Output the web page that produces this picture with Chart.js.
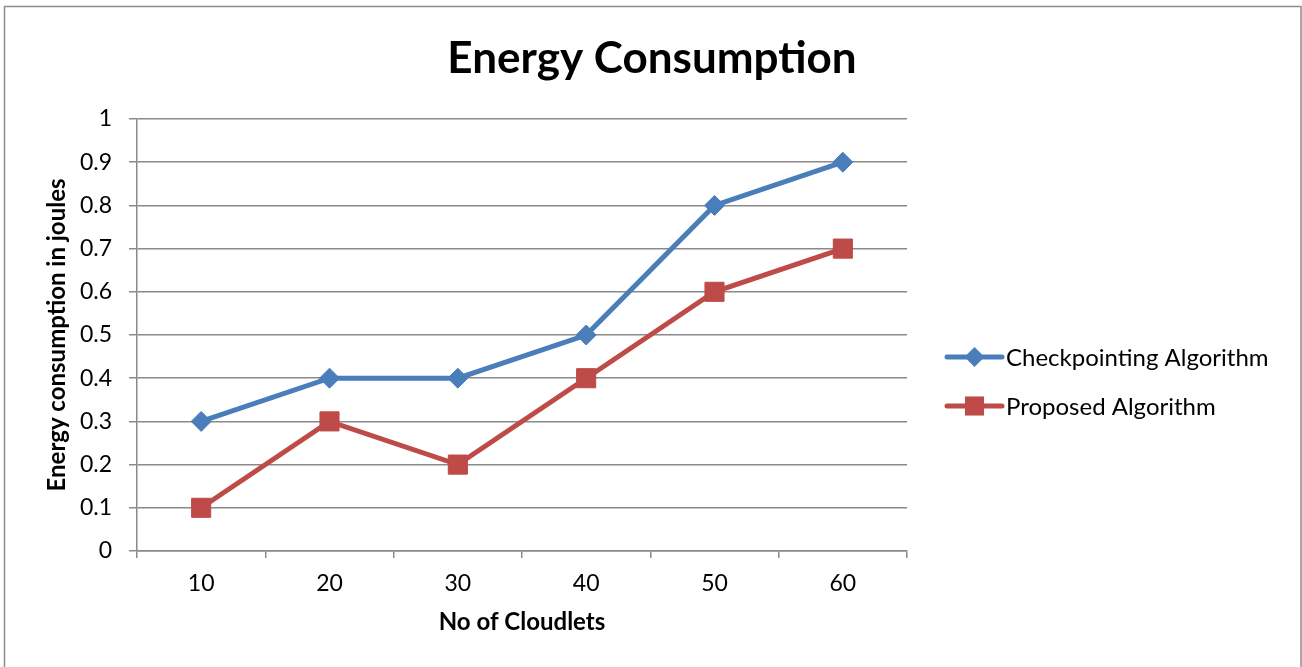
<!DOCTYPE html>
<html>
<head>
<meta charset="utf-8">
<script src="https://cdn.jsdelivr.net/npm/chart.js@4/dist/chart.umd.min.js"></script>
<style>
  html, body { margin: 0; padding: 0; background: #fff; }
</style>
</head>
<body>
<canvas id="energyChart" width="1302" height="667"></canvas>
<script>
var cloudlets = ['10', '20', '30', '40', '50', '60'];
var checkpointing = [0.3, 0.4, 0.4, 0.5, 0.8, 0.9];
var proposed = [0.1, 0.3, 0.2, 0.4, 0.6, 0.7];
var seriesNames = ['Checkpointing Algorithm', 'Proposed Algorithm'];

var FONT = 'Lato';
var GRID = '#8a8a8a';

// draws the frame, the big title and the legend (Excel style, legend on the right)
var decorPlugin = {
    id: 'decor',
    afterDraw: function (chart) {
        var ctx = chart.ctx;
        ctx.save();

        ctx.strokeStyle = '#8c8c8c';
        ctx.lineWidth = 1.5;
        ctx.beginPath();
        ctx.moveTo(4.5, 667);
        ctx.lineTo(4.5, 6.5);
        ctx.lineTo(1301, 6.5);
        ctx.lineTo(1301, 667);
        ctx.stroke();

        ctx.fillStyle = '#000';
        ctx.font = 'bold 44px ' + FONT;
        ctx.textAlign = 'center';
        ctx.textBaseline = 'alphabetic';
        ctx.fillText('Energy Consumption', 652, 73);

        chart.data.datasets.forEach(function (ds, i) {
            var y = 357 + i * 49;
            ctx.strokeStyle = ds.borderColor;
            ctx.lineWidth = ds.borderWidth;
            ctx.lineCap = 'round';
            ctx.beginPath();
            ctx.moveTo(947, y);
            ctx.lineTo(1002, y);
            ctx.stroke();

            ctx.fillStyle = ds.pointBackgroundColor;
            ctx.beginPath();
            if (ds.pointStyle === 'rectRot') {
                var r = ds.pointRadius;
                ctx.moveTo(974.5, y - r);
                ctx.lineTo(974.5 + r, y);
                ctx.lineTo(974.5, y + r);
                ctx.lineTo(974.5 - r, y);
                ctx.closePath();
            } else {
                var s = ds.pointRadius * Math.SQRT1_2;
                ctx.rect(974.5 - s, y - s, 2 * s, 2 * s);
            }
            ctx.fill();

            ctx.fillStyle = '#000';
            ctx.font = '24px ' + FONT;
            ctx.textAlign = 'left';
            ctx.textBaseline = 'middle';
            ctx.fillText(ds.label, 1006, y + 1);
        });
        ctx.restore();
    }
};

var ctx = document.getElementById('energyChart');

var myChart = new Chart(ctx, {
    type: 'line',
    data: {
        labels: cloudlets,
        datasets: [{
            label: seriesNames[0],
            data: checkpointing,
            borderColor: '#4a7ebb',
            backgroundColor: '#4a7ebb',
            pointBackgroundColor: '#4a7ebb',
            pointBorderColor: '#4a7ebb',
            borderWidth: 5,
            pointStyle: 'rectRot',
            pointRadius: 10,
            pointBorderWidth: 1,
            tension: 0
        }, {
            label: seriesNames[1],
            data: proposed,
            borderColor: '#be4b48',
            backgroundColor: '#be4b48',
            pointBackgroundColor: '#be4b48',
            pointBorderColor: '#be4b48',
            borderWidth: 5,
            pointStyle: 'rect',
            pointRadius: 13.5,
            pointBorderWidth: 1,
            tension: 0
        }]
    },
    options: {
        responsive: false,
        animation: false,
        layout: {
            padding: { left: 0, top: 119, right: 395, bottom: 0 }
        },
        plugins: {
            legend: { display: false },
            title: { display: false },
            tooltip: { enabled: false }
        },
        scales: {
            x: {
                offset: true,
                grid: {
                    drawOnChartArea: false,
                    drawTicks: true,
                    tickLength: 7,
                    color: GRID,
                    lineWidth: 1.5,
                    offset: true
                },
                border: { color: GRID, width: 1.5 },
                ticks: {
                    color: '#000',
                    font: { family: FONT, size: 23 },
                    padding: 12,
                    maxRotation: 0
                },
                title: {
                    display: true,
                    text: 'No of Cloudlets',
                    color: '#000',
                    font: { family: FONT, size: 24, weight: 'bold' },
                    padding: { top: 0, bottom: 30 }
                },
                afterFit: function (scale) {
                    scale.height = 116;
                    scale.paddingLeft = 0;
                    scale.paddingRight = 0;
                }
            },
            y: {
                min: 0,
                max: 1,
                ticks: {
                    stepSize: 0.1,
                    color: '#000',
                    font: { family: FONT, size: 23 },
                    padding: 17,
                    callback: function (v) {
                        return String(Math.round(v * 10) / 10);
                    }
                },
                grid: {
                    color: GRID,
                    lineWidth: 1.5,
                    tickLength: 8
                },
                border: { color: GRID, width: 1.5 },
                title: {
                    display: true,
                    text: 'Energy consumption in joules',
                    color: '#000',
                    font: { family: FONT, size: 24, weight: 'bold' },
                    padding: { top: 43, bottom: 0 }
                },
                afterFit: function (scale) {
                    scale.width = 137;
                    scale.paddingTop = 0;
                    scale.paddingBottom = 0;
                }
            }
        }
    },
    plugins: [decorPlugin]
});
</script>
</body>
</html>
